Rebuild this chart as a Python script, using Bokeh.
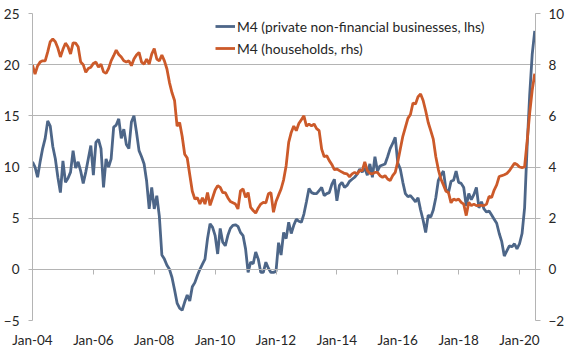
from bokeh.plotting import figure
from bokeh.models import Range1d, LinearAxis, FixedTicker, Legend, LegendItem, ColumnDataSource
from bokeh.embed import file_html
from bokeh.resources import INLINE

# Monthly data, Jan-04 .. Jul-20 (month index 0 = Jan-04)
businesses_lhs = [
    10.5, 10.0, 9.0, 10.5, 11.8, 12.8, 14.5, 14.0, 12.0, 10.8, 9.0, 7.5,
    10.6, 8.5, 8.9, 9.5, 11.6, 9.9, 10.5, 9.6, 8.4, 9.5, 10.8, 12.1,
    9.2, 12.4, 12.7, 11.8, 8.0, 10.8, 10.0, 10.8, 13.9, 14.1, 14.7, 12.8,
    13.7, 12.2, 11.8, 14.4, 15.0, 13.4, 11.6, 11.0, 10.3, 8.6, 5.9, 8.0,
    5.9, 7.2, 5.2, 1.4, 1.0, 0.4, 0.0, -0.8, -2.0, -3.3, -3.8, -4.0,
    -3.2, -2.5, -3.1, -1.7, -1.3, -0.6, 0.0, 0.5, 1.0, 3.0, 4.45, 4.1,
    3.3, 1.5, 4.0, 2.65, 2.3, 3.3, 4.0, 4.3, 4.35, 4.2, 3.6, 3.3,
    2.0, -0.3, 0.7, 0.55, 1.7, 1.0, -0.3, -0.3, 0.7, 0.1, -0.3, -0.3,
    -0.2, 2.6, 1.4, 3.6, 3.0, 4.6, 3.5, 4.3, 4.9, 4.7, 4.6, 5.4,
    6.6, 7.9, 7.5, 7.4, 7.4, 7.7, 8.0, 7.2, 7.4, 7.5, 8.3, 8.8,
    6.7, 8.2, 8.5, 8.0, 8.2, 8.6, 8.8, 9.0, 9.3, 9.8, 9.5, 9.9,
    9.2, 10.3, 9.0, 11.0, 9.6, 10.1, 10.2, 10.3, 11.0, 11.8, 12.3, 12.9,
    10.4, 9.8, 8.5, 7.4, 7.1, 7.2, 6.9, 6.6, 7.0, 5.8, 4.8, 3.6,
    5.3, 5.1, 5.8, 7.0, 8.7, 9.2, 9.6, 7.8, 7.5, 8.6, 8.7, 9.6,
    8.5, 8.4, 8.0, 6.2, 7.4, 6.8, 7.3, 8.0, 6.0, 6.6, 5.9, 5.6,
    5.7, 5.3, 4.9, 4.5, 3.5, 2.7, 1.3, 1.8, 2.3, 2.2, 2.5, 2.0,
    2.5, 3.5, 6.0, 12.0, 17.0, 21.0, 23.3,
]
households_rhs = [
    7.98, 7.63, 7.95, 8.1, 8.15, 8.15, 8.5, 8.9, 9.0, 8.9, 8.65, 8.3,
    8.6, 8.84, 8.7, 8.42, 8.85, 8.84, 8.7, 8.1, 8.0, 7.7, 7.85, 7.9,
    8.05, 8.1, 7.9, 8.02, 7.72, 7.66, 7.85, 8.15, 8.35, 8.57, 8.4, 8.3,
    8.15, 8.1, 8.15, 7.96, 8.22, 8.38, 8.48, 8.1, 8.02, 8.22, 8.02, 8.41,
    8.63, 8.22, 8.15, 8.38, 8.15, 7.83, 7.3, 6.9, 6.6, 5.6, 5.74, 5.2,
    4.5, 4.35, 3.7, 3.05, 2.75, 2.8, 2.55, 2.8, 2.55, 3.0, 2.5, 2.8,
    3.1, 3.27, 3.2, 3.0, 3.0, 2.8, 2.65, 2.6, 2.55, 2.36, 3.07, 3.14,
    2.81, 3.0, 2.42, 2.3, 2.2, 2.4, 2.55, 2.62, 2.6, 2.95, 3.0, 2.23,
    2.65, 2.9, 3.14, 3.5, 4.05, 4.96, 5.35, 5.6, 5.42, 5.7, 5.85, 6.0,
    5.6, 5.68, 5.61, 5.68, 5.5, 5.42, 4.7, 4.4, 4.44, 4.25, 4.1, 3.9,
    3.92, 3.86, 3.8, 3.75, 3.73, 3.62, 3.73, 3.79, 3.73, 3.86, 3.86, 4.2,
    3.86, 3.75, 3.73, 3.79, 3.79, 3.66, 3.6, 3.66, 3.53, 3.47, 3.66, 3.79,
    4.2, 4.7, 5.2, 5.55, 5.9, 6.05, 6.5, 6.46, 6.75, 6.85, 6.6, 6.2,
    5.74, 5.42, 5.09, 4.4, 3.9, 3.53, 3.3, 3.05, 3.0, 2.6, 2.75, 2.7,
    2.75, 2.62, 2.55, 2.1, 2.62, 2.49, 2.55, 2.49, 2.5, 2.5, 2.49, 2.55,
    2.85, 2.81, 3.1, 3.3, 3.63, 3.66, 3.7, 3.75, 3.85, 4.0, 4.15, 4.1,
    4.0, 3.98, 4.0, 5.0, 6.1, 7.0, 7.65,
]
month_index = list(range(len(businesses_lhs)))
tick_months = [0, 24, 48, 72, 96, 120, 144, 168, 192]
tick_labels = ["Jan-04", "Jan-06", "Jan-08", "Jan-10", "Jan-12", "Jan-14", "Jan-16", "Jan-18", "Jan-20"]
series_names = ["M4 (private non-financial businesses, lhs)", "M4 (households, rhs)"]

BLUE = "#4d6688"
ORANGE = "#cc5a2a"
GRID = "#b4b4b4"
TEXT = "#262626"
FONT = "Lato"

src = ColumnDataSource(dict(m=month_index, b=businesses_lhs, h=households_rhs))

p = figure(width=567, height=351, output_backend="svg", toolbar_location=None,
           x_range=Range1d(0, 198.3), y_range=Range1d(-5, 25),
           min_border_left=31, min_border_right=32, min_border_top=13, min_border_bottom=31)
p.extra_y_ranges = {"rhs": Range1d(-2, 10)}
p.outline_line_color = None
p.background_fill_color = "white"
p.border_fill_color = "white"

# lines
r_b = p.line("m", "b", source=src, line_color=BLUE, line_width=2.8)
r_h = p.line("m", "h", source=src, line_color=ORANGE, line_width=2.8, y_range_name="rhs")

# x axis (labels at bottom)
xa = p.xaxis[0]
xa.ticker = FixedTicker(ticks=tick_months)
xa.major_label_overrides = {m: l for m, l in zip(tick_months, tick_labels)}
xa.axis_line_color = None
xa.major_tick_line_color = None
xa.minor_tick_line_color = None
xa.major_tick_in = 0
xa.major_tick_out = 0
xa.major_label_standoff = 11
xa.major_label_text_line_height = 0.8
xa.major_label_text_font = FONT
xa.major_label_text_font_size = "13.5px"
xa.major_label_text_color = TEXT

# x axis line with ticks, crossing at y = 0 (placed in the top panel so it takes no bottom space)
x0 = LinearAxis(ticker=FixedTicker(ticks=tick_months), fixed_location=0)
x0.axis_line_color = GRID
x0.major_tick_line_color = GRID
x0.major_tick_in = 5
x0.major_tick_out = 0
x0.minor_tick_line_color = None
x0.major_label_standoff = 0
x0.major_label_text_font_size = "0px"
x0.major_label_text_alpha = 0
p.add_layout(x0, "above")

# left axis
ya = p.yaxis[0]
ya.ticker = FixedTicker(ticks=[-5, 0, 5, 10, 15, 20, 25])
ya.axis_line_color = GRID
ya.major_tick_line_color = GRID
ya.major_tick_in = 0
ya.major_tick_out = 4
ya.minor_tick_line_color = None
ya.major_label_standoff = 9
ya.major_label_text_font = FONT
ya.major_label_text_font_size = "13.5px"
ya.major_label_text_color = TEXT

# right axis
ra = LinearAxis(y_range_name="rhs", ticker=FixedTicker(ticks=[-2, 0, 2, 4, 6, 8, 10]))
ra.axis_line_color = GRID
ra.major_tick_line_color = GRID
ra.major_tick_in = 0
ra.major_tick_out = 5
ra.minor_tick_line_color = None
ra.major_label_standoff = 8
ra.major_label_text_font = FONT
ra.major_label_text_font_size = "13.5px"
ra.major_label_text_color = TEXT
p.add_layout(ra, "right")

p.xgrid.grid_line_color = None
p.ygrid.ticker = FixedTicker(ticks=[-5, 0, 5, 10, 15, 20, 25])
p.ygrid.grid_line_color = GRID
p.ygrid.grid_line_width = 1.2

legend = Legend(items=[LegendItem(label=series_names[0], renderers=[r_b]),
                       LegendItem(label=series_names[1], renderers=[r_h])],
                location=(183, 262), orientation="vertical")
legend.background_fill_alpha = 0
legend.border_line_color = None
legend.padding = 0
legend.margin = 0
legend.spacing = 2
legend.glyph_width = 20
legend.glyph_height = 20
legend.label_height = 20
legend.label_standoff = 2
legend.label_text_font = FONT
legend.label_text_font_size = "13.8px"
legend.label_text_color = TEXT
p.add_layout(legend, "center")

open("out.html", "w").write(file_html(p, INLINE))
